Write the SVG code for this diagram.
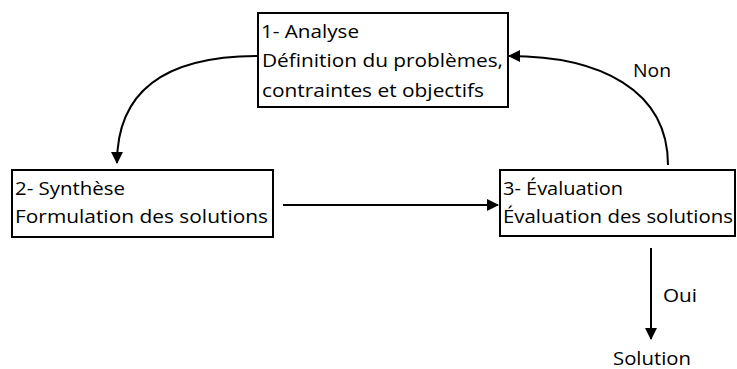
<svg xmlns="http://www.w3.org/2000/svg" width="737" height="369" viewBox="0 0 737 369">
  <style>
    .box { fill: #ffffff; stroke: #000000; stroke-width: 2; }
    .lbl { font-family: "Open Sans", "Noto Sans", sans-serif; font-size: 18px; fill: #000000; }
    .edge { fill: none; stroke: #000000; stroke-width: 2; }
  </style>
  <defs>
    <marker id="arrow" markerUnits="userSpaceOnUse" markerWidth="12" markerHeight="12" viewBox="0 0 12 12" refX="11" refY="6" orient="auto">
      <path d="M0,0 L12,6 L0,12 Z" fill="#000000"/>
    </marker>
  </defs>

  <g id="connectors">
    <path class="edge" d="M258,56 C160,56 117,95 117,163" marker-end="url(#arrow)"/>
    <path class="edge" d="M668,165 C668,90 600,56 509,56" marker-end="url(#arrow)"/>
    <line class="edge" x1="283" y1="205" x2="498" y2="205" marker-end="url(#arrow)"/>
    <line class="edge" x1="651" y1="248" x2="651" y2="339" marker-end="url(#arrow)"/>
    <text class="lbl" x="633" y="77" textLength="38" lengthAdjust="spacingAndGlyphs">Non</text>
    <text class="lbl" x="663" y="302" textLength="34" lengthAdjust="spacingAndGlyphs">Oui</text>
  </g>

  <g id="analyse">
    <rect class="box" x="258" y="13" width="250" height="94"/>
    <text class="lbl" x="261" y="38" textLength="98" lengthAdjust="spacingAndGlyphs">1- Analyse</text>
    <text class="lbl" x="262" y="67" textLength="241" lengthAdjust="spacingAndGlyphs">Définition du problèmes,</text>
    <text class="lbl" x="262" y="97" textLength="222" lengthAdjust="spacingAndGlyphs">contraintes et objectifs</text>
  </g>

  <g id="synthese">
    <rect class="box" x="12" y="170" width="261" height="67"/>
    <text class="lbl" x="15" y="195" textLength="110" lengthAdjust="spacingAndGlyphs">2- Synthèse</text>
    <text class="lbl" x="15" y="223" textLength="253" lengthAdjust="spacingAndGlyphs">Formulation des solutions</text>
  </g>

  <g id="evaluation">
    <rect class="box" x="500" y="170" width="235" height="66"/>
    <text class="lbl" x="503" y="195" textLength="120" lengthAdjust="spacingAndGlyphs">3- Évaluation</text>
    <text class="lbl" x="503" y="223" textLength="230" lengthAdjust="spacingAndGlyphs">Évaluation des solutions</text>
  </g>

  <g id="solution">
    <text class="lbl" x="613" y="365" textLength="78" lengthAdjust="spacingAndGlyphs">Solution</text>
  </g>
</svg>
